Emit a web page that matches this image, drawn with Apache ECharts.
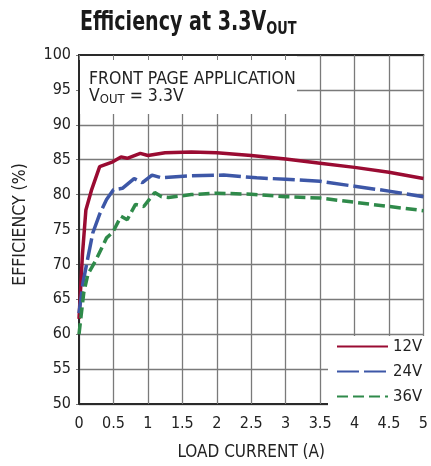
<!DOCTYPE html>
<html>
<head>
<meta charset="utf-8">
<script src="https://cdn.jsdelivr.net/npm/echarts@6/dist/echarts.min.js"></script>
<style>
html, body { margin: 0; padding: 0; background: #fff; }
#container { width: 431px; height: 466px; }
</style>
</head>
<body>
<div id="container"></div>
<script>
var FONT = '"DejaVu Sans Condensed", "Liberation Sans Narrow", sans-serif';

// load current (A) / efficiency (%)
var current12 = [0, 0.05, 0.1, 0.18, 0.3, 0.49, 0.61, 0.7, 0.89, 1.0, 1.25, 1.63, 2.0, 2.5, 3.0, 3.5, 4.0, 4.5, 5.0];
var eff12 = [62.2, 71.4, 77.8, 80.6, 84.0, 84.7, 85.4, 85.2, 85.9, 85.6, 86.0, 86.1, 86.0, 85.6, 85.1, 84.5, 83.9, 83.2, 82.3];

var current24 = [0, 0.06, 0.12, 0.2, 0.3, 0.4, 0.5, 0.63, 0.8, 0.92, 1.06, 1.2, 1.63, 2.1, 2.58, 3.0, 3.5, 4.0, 4.5, 5.0];
var eff24 = [63.0, 67.5, 70.5, 74.5, 77.2, 79.3, 80.7, 80.9, 82.3, 81.7, 82.8, 82.4, 82.7, 82.8, 82.4, 82.2, 81.9, 81.2, 80.5, 79.7];

var current36 = [0, 0.07, 0.13, 0.25, 0.4, 0.49, 0.61, 0.7, 0.82, 0.94, 1.1, 1.2, 1.3, 1.63, 2.0, 2.5, 3.0, 3.5, 4.0, 4.5, 5.0];
var eff36 = [60.0, 66.0, 68.6, 70.7, 73.8, 74.6, 76.9, 76.4, 78.6, 78.3, 80.3, 79.7, 79.6, 80.0, 80.2, 80.05, 79.7, 79.5, 78.9, 78.3, 77.7];

var seriesNames = ['12V', '24V', '36V'];

function pairs(xs, ys) {
    var out = [];
    for (var i = 0; i < xs.length; i++) {
        out.push([xs[i], ys[i]]);
    }
    return out;
}

var dom = document.getElementById('container');
var myChart = echarts.init(dom, null, { renderer: 'canvas' });

var gridColor = '#7a7a7a';
var axisColor = '#2a2a2a';
var textColor = '#222';

var option = {
    animation: false,
    backgroundColor: '#fff',
    textStyle: { fontFamily: FONT },
    legend: {
        orient: 'vertical',
        left: 328,
        top: 336,
        padding: [2, 9, 11, 8],
        backgroundColor: '#fff',
        itemWidth: 51,
        itemHeight: 14,
        itemGap: 8,
        data: seriesNames,
        itemStyle: { color: 'rgba(0,0,0,0)', borderWidth: 0 },
        textStyle: { fontFamily: FONT, fontSize: 16.5, color: textColor }
    },
    grid: {
        left: 79,
        right: 1,
        top: 55,
        bottom: 59,
        containLabel: false
    },
    xAxis: [{
        type: 'value',
        min: 0,
        max: 5,
        interval: 0.5,
        name: 'LOAD CURRENT (A)',
        nameLocation: 'middle',
        nameGap: 40,
        nameTextStyle: { fontFamily: FONT, fontSize: 17, color: textColor },
        axisLine: { show: true, lineStyle: { color: axisColor, width: 2 } },
        axisTick: { show: true, inside: true, length: 5, lineStyle: { color: gridColor } },
        splitLine: { show: true, lineStyle: { color: gridColor, width: 1.3 } },
        axisLabel: { fontFamily: FONT, fontSize: 16, color: textColor, margin: 12 }
    }, {
        type: 'value',
        position: 'top',
        min: 0,
        max: 5,
        interval: 0.5,
        z: 3,
        axisLine: { show: true, lineStyle: { color: axisColor, width: 2 } },
        axisTick: { show: true, inside: true, length: 5, lineStyle: { color: gridColor } },
        splitLine: { show: false },
        axisLabel: { show: false }
    }],
    yAxis: [{
        type: 'value',
        min: 50,
        max: 100,
        interval: 5,
        name: 'EFFICIENCY (%)',
        nameLocation: 'middle',
        nameGap: 50,
        nameTextStyle: { fontFamily: FONT, fontSize: 17.5, color: textColor, padding: [0, 0, 0, 10] },
        axisLine: { show: true, lineStyle: { color: axisColor, width: 2 } },
        axisTick: { show: true, length: 3, lineStyle: { color: gridColor } },
        splitLine: { show: true, lineStyle: { color: gridColor, width: 1.3 } },
        axisLabel: { fontFamily: FONT, fontSize: 16, color: textColor, margin: 8, padding: [4, 0, 0, 0] }
    }, {
        type: 'value',
        position: 'right',
        min: 50,
        max: 100,
        interval: 5,
        z: 3,
        axisLine: { show: true, lineStyle: { color: axisColor, width: 2 } },
        axisTick: { show: false },
        splitLine: { show: false },
        axisLabel: { show: false }
    }],
    graphic: [{
        // chart title, squeezed to look like a condensed face
        type: 'text',
        left: 80,
        top: 10,
        scaleX: 0.8,
        style: {
            text: '{a|Efficiency at 3.3V}{b|OUT}',
            rich: {
                a: { fontFamily: FONT, fontWeight: 'bold', fontSize: 26.5, lineHeight: 30, fill: '#1a1a1a' },
                b: { fontFamily: FONT, fontWeight: 'bold', fontSize: 18, lineHeight: 18, fill: '#1a1a1a', verticalAlign: 'bottom', padding: [4, 0, 0, 0] }
            }
        }
    }, {
        type: 'group',
        left: 80,
        top: 56,
        children: [{
            type: 'rect',
            z: 1,
            shape: { x: 0, y: 0, width: 217, height: 58 },
            style: { fill: '#fff' }
        }, {
            type: 'text',
            z: 2,
            left: 9,
            top: 14,
            style: {
                text: 'FRONT PAGE APPLICATION',
                font: '17.5px ' + FONT,
                fill: textColor
            }
        }, {
            type: 'text',
            z: 2,
            left: 9,
            top: 31,
            style: {
                text: '{n|V}{s|OUT}{n| = 3.3V}',
                rich: {
                    n: { fontFamily: FONT, fontSize: 17.5, lineHeight: 20, fill: textColor },
                    s: { fontFamily: FONT, fontSize: 13, lineHeight: 13, fill: textColor, verticalAlign: 'bottom', padding: [3, 0, 0, 0] }
                }
            }
        }]
    }],
    series: [{
        name: '12V',
        type: 'line',
        symbol: 'none',
        z: 4,
        lineStyle: { color: '#9a0b32', width: 3.5, type: 'solid' },
        itemStyle: { color: '#9a0b32' },
        data: pairs(current12, eff12)
    }, {
        name: '24V',
        type: 'line',
        symbol: 'none',
        z: 4,
        lineStyle: { color: '#3d57a7', width: 3.5, type: [22, 5] },
        itemStyle: { color: '#3d57a7' },
        data: pairs(current24, eff24)
    }, {
        name: '36V',
        type: 'line',
        symbol: 'none',
        z: 4,
        lineStyle: { color: '#2f8a4a', width: 3.5, type: [11, 5] },
        itemStyle: { color: '#2f8a4a' },
        data: pairs(current36, eff36)
    }]
};

myChart.setOption(option);

window.onresize = function () {
    myChart.resize();
};
</script>
</body>
</html>
